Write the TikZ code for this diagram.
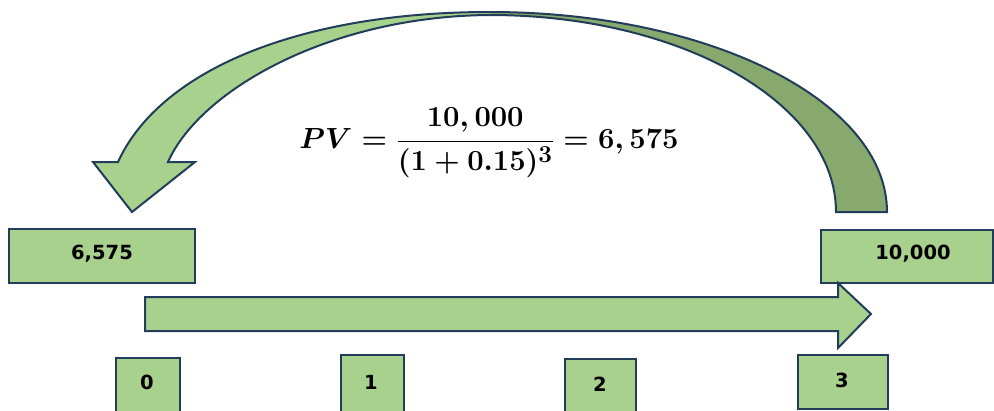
\documentclass[tikz,border=0pt]{standalone}
\usepackage{fontspec}
\newfontfamily\boxfont{DejaVu Sans}
\definecolor{lgreen}{HTML}{A9D18E}
\definecolor{dgreen}{HTML}{87A96E}
\definecolor{edge}{HTML}{223D5A}
\newcommand{\bigfont}{\fontsize{24.88}{30}\selectfont\boldmath}
\newcommand{\bxfont}{\boxfont\bfseries\fontsize{19.5}{22}\selectfont}
\tikzset{
  valbox/.style={draw=edge, line width=2pt, fill=lgreen, inner sep=0pt},
  boxtext/.style={font=\bxfont},
  shapeline/.style={draw=edge, line width=2pt, line join=miter}
}
\begin{document}
\begin{tikzpicture}[x=1pt,y=-1pt]
\useasboundingbox (0,0) rectangle (994,410);
\clip (0,0) rectangle (994,410);
% curved arrow
\fill[lgreen] (887,212) -- (836,212)
  .. controls (836,103) and (681,15) .. (490,15)
  .. controls (330,16) and (200,90) .. (168,162)
  -- (195,162) -- (132,212) -- (93,162) -- (118,162)
  .. controls (160,70) and (300,12) .. (490,12)
  .. controls (709,12) and (887,101) .. (887,212) -- cycle;
\begin{scope}
  \clip (490,0) rectangle (994,230);
  \fill[dgreen] (887,212) -- (836,212)
  .. controls (836,103) and (681,15) .. (490,15)
  .. controls (330,16) and (200,90) .. (168,162)
  -- (195,162) -- (132,212) -- (93,162) -- (118,162)
  .. controls (160,70) and (300,12) .. (490,12)
  .. controls (709,12) and (887,101) .. (887,212) -- cycle;
\end{scope}
\draw[shapeline] (887,212) -- (836,212)
  .. controls (836,103) and (681,15) .. (490,15)
  .. controls (330,16) and (200,90) .. (168,162)
  -- (195,162) -- (132,212) -- (93,162) -- (118,162)
  .. controls (160,70) and (300,12) .. (490,12)
  .. controls (709,12) and (887,101) .. (887,212) -- cycle;
% value boxes
\node[valbox, minimum width=186pt, minimum height=54pt, name=pv] at (102,256) {};
\node[boxtext, name=pvt] at (102,254) {6,575};
\node[valbox, minimum width=172pt, minimum height=53pt, anchor=north west, name=fv] at (820,229) {};
\node[boxtext, name=fvt] at (913,254) {10,000};
% time line arrow
\draw[shapeline, fill=lgreen] (145,297) -- (838,297) -- (838,283) -- (871,314) -- (838,348) -- (838,331) -- (145,331) -- cycle;
% period boxes
\node[valbox, minimum width=64pt, minimum height=58pt, anchor=north west, name=t0] at (115,357) {};
\node[valbox, minimum width=63pt, minimum height=60pt, anchor=north west, name=t1] at (340,354) {};
\node[valbox, minimum width=71pt, minimum height=58pt, anchor=north west, name=t2] at (564,358) {};
\node[valbox, minimum width=90pt, minimum height=54pt, anchor=north west, name=t3] at (797,354) {};
\node[boxtext, name=l0] at (147,382) {0};
\node[boxtext, name=l1] at (371,382) {1};
\node[boxtext, name=l2] at (600,384) {2};
\node[boxtext, name=l3] at (842,380) {3};
% formula
\node[font=\bigfont, scale=1.17, transform shape, name=formula] at (489,143) {$\displaystyle PV=\frac{10,000}{(1+0.15)^{3}}=6,575$};
\end{tikzpicture}
\end{document}
